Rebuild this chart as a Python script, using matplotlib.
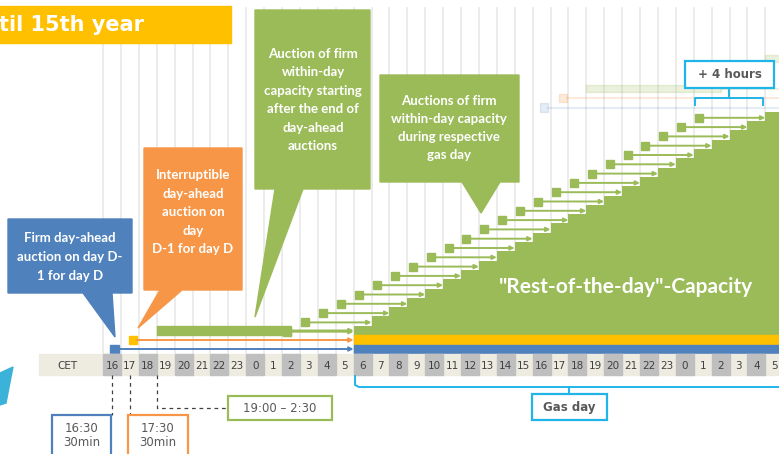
import matplotlib
matplotlib.use("Agg")
import matplotlib.pyplot as plt
from matplotlib.patches import Rectangle, Polygon

# hour labels of the CET strip (16:00 on day D-1 up to 5:00 on day D+1)
hour_labels = [16, 17, 18, 19, 20, 21, 22, 23, 0, 1, 2, 3, 4, 5,
               6, 7, 8, 9, 10, 11, 12, 13, 14, 15, 16, 17, 18, 19, 20, 21, 22, 23,
               0, 1, 2, 3, 4, 5]

# auction times, as hour offsets from 16:00 on day D-1
day_ahead_time = 0.5        # 16:30
interruptible_time = 1.5    # 17:30
within_day_start = 3.0      # 19:00
within_day_end = 10.5       # 2:30
gas_day_start = 14.0        # 6:00
lead_time = 4               # "+ 4 hours"

# rest-of-the-day capacity: level reached at each hour of the gas day
step_hours = [14, 15, 16, 17, 18, 19, 20, 21, 22, 23, 24, 25,
              26, 27, 28, 29, 30, 31, 32, 33, 34, 35, 36, 37]
step_levels = [1, 2, 3, 4, 5, 6, 7, 8, 9, 10, 11, 12,
               13, 14, 15, 16, 17, 18, 19, 20, 21, 22, 23, 24]

BLUE = "#4F81BD"
ORANGE = "#F79646"
YELLOW = "#FFC000"
GREEN = "#9BBB59"
CYAN = "#1FB5E8"
GREY_TXT = "#595959"

# page layout (pixels): hour grid origin and width
X0 = 103.0
W = 17.9
STEP = 9.3
BASE = 335.0


def hx(px):
    return (px - X0) / W


fig = plt.figure(figsize=(7.79, 4.54), dpi=100)
ax = fig.add_axes([0, 0, 1, 1])
ax.set_xlim(hx(0), hx(779))
ax.set_ylim(454, 0)
ax.axis("off")

# vertical hour grid
for k in range(len(hour_labels) + 1):
    ax.plot([k, k], [8, 354], color="#EBEBEB", lw=1.3, zorder=1)

# faded next-day auctions
ax.add_patch(Rectangle((day_ahead_time + 24 - 0.1, 103), 0.45, 9, color=BLUE, alpha=0.15, zorder=2))
ax.plot([day_ahead_time + 24.35, hx(779)], [107.5, 107.5], color=BLUE, alpha=0.15, lw=1.5, zorder=2)
ax.add_patch(Rectangle((interruptible_time + 24 - 0.05, 94), 0.45, 8, color=ORANGE, alpha=0.2, zorder=2))
ax.plot([interruptible_time + 24.4, hx(779)], [98, 98], color=ORANGE, alpha=0.2, lw=1.5, zorder=2)
ax.add_patch(Rectangle((within_day_start + 24, 85), within_day_end - within_day_start, 7,
                       color=GREEN, alpha=0.2, zorder=2))
ax.plot([within_day_end + 24, hx(779)], [88.5, 88.5], color=GREEN, alpha=0.2, lw=1.5, zorder=2)
ax.add_patch(Rectangle((hx(765), 55), 2, 7, color=GREEN, alpha=0.2, zorder=2))

# rest-of-the-day staircase
edges = step_hours + [step_hours[-1] + 1]
tops = [BASE - STEP * lv for lv in step_levels]
ax.stairs(tops, edges, baseline=BASE, fill=True, color=GREEN, zorder=3)

# within-day auctions: square lead_time hours before each step, arrow to step
for s, top in zip(step_hours, tops):
    yc = top + 6
    x_sq = s - lead_time + 0.08
    ax.add_patch(Rectangle((x_sq, yc - 4), 0.45, 8, color=GREEN, zorder=4))
    ax.annotate("", xy=(s, yc), xytext=(x_sq + 0.45, yc),
                arrowprops=dict(arrowstyle="-|>", color=GREEN, lw=1.4,
                                mutation_scale=6, shrinkA=0, shrinkB=0), zorder=4)

# within-day auction after day-ahead: 19:00 - 2:30
ax.add_patch(Rectangle((within_day_start, 326), within_day_end - within_day_start, 9, color=GREEN, zorder=4))
ax.annotate("", xy=(gas_day_start, 330.5), xytext=(within_day_end, 330.5),
            arrowprops=dict(arrowstyle="-|>", color=GREEN, lw=1.4, mutation_scale=6,
                            shrinkA=0, shrinkB=0), zorder=4)

# interruptible day-ahead
ax.add_patch(Rectangle((interruptible_time - 0.05, 335.5), 0.45, 8.5, color=YELLOW, zorder=5))
ax.annotate("", xy=(gas_day_start, 340), xytext=(interruptible_time + 0.4, 340),
            arrowprops=dict(arrowstyle="-|>", color=ORANGE, lw=1.4, mutation_scale=6,
                            shrinkA=0, shrinkB=0), zorder=5)
ax.add_patch(Rectangle((gas_day_start, 335), hx(779) - gas_day_start, 9, color=YELLOW, zorder=5))

# firm day-ahead
ax.add_patch(Rectangle((day_ahead_time - 0.1, 344.5), 0.5, 8.5, color=BLUE, zorder=5))
ax.annotate("", xy=(gas_day_start, 349), xytext=(day_ahead_time + 0.4, 349),
            arrowprops=dict(arrowstyle="-|>", color=BLUE, lw=1.4, mutation_scale=6,
                            shrinkA=0, shrinkB=0), zorder=5)
ax.add_patch(Rectangle((gas_day_start, 345), hx(779) - gas_day_start, 8.5, color=BLUE, zorder=5))

# CET strip
ax.add_patch(Rectangle((hx(39), 354), hx(779) - hx(39), 21, color="#EEECE1", zorder=5))
for i, lab in enumerate(hour_labels):
    if lab % 2 == 0:
        ax.add_patch(Rectangle((i, 354), 1, 21, color="#BFBFBF", zorder=6))
    ax.text(i + 0.5, 366, str(lab), ha="center", va="center", fontsize=7.5,
            color="#404040", zorder=7)
ax.text(hx(67), 366, "CET", ha="center", va="center", fontsize=7.5, color="#404040", zorder=7)


def callout(pts, color, lines, cx, ys):
    poly = Polygon([(hx(x), y) for x, y in pts], closed=True, color=color, zorder=8)
    ax.add_patch(poly)
    for t, y in zip(lines, ys):
        ax.text(hx(cx), y, t, ha="center", va="center", color="white", fontsize=9.5,
                family="Lato", weight="bold", zorder=9)


callout([(8, 219), (132, 219), (132, 293), (112, 293), (115, 337), (83, 293), (8, 293)], BLUE,
        ["Firm day-ahead", "auction on day D-", "1 for day D"], 70, [238, 257, 276])
callout([(144, 148), (242, 148), (242, 290), (182, 290), (138, 328), (160, 290), (144, 290)], ORANGE,
        ["Interruptible", "day-ahead", "auction on", "day", "D-1 for day D"], 193,
        [175, 194, 212, 231, 249])
callout([(255, 10), (370, 10), (370, 189), (303, 189), (255, 317), (275, 189), (255, 189)], GREEN,
        ["Auction of firm", "within-day", "capacity starting", "after the end of",
         "day-ahead", "auctions"], 313, [54, 72, 91, 109, 128, 146])
callout([(380, 75), (519, 75), (519, 182), (500, 182), (481, 213), (462, 182), (380, 182)], GREEN,
        ["Auctions of firm", "within-day capacity", "during respective", "gas day"], 449,
        [101, 119, 137, 155])

ax.text(hx(626), 287, "\"Rest-of-the-day\"-Capacity", ha="center", va="center", color="white",
        fontsize=15, family="Lato", weight="bold", zorder=9)

# banner
ax.add_patch(Rectangle((hx(0), 6), hx(231) - hx(0), 37, color=YELLOW, zorder=10))
ax.text(hx(-1), 25, "til 15th year", ha="left", va="center", color="white", fontsize=15,
        weight="bold", zorder=11)

# "+ 4 hours" bracket
ax.add_patch(Rectangle((hx(685), 61), hx(774) - hx(685), 27, facecolor="white", edgecolor=CYAN,
                       lw=1.6, zorder=10))
ax.text(hx(729.5), 75, "+ 4 hours", ha="center", va="center", fontsize=8.5, weight="bold",
        color=GREY_TXT, zorder=11)
ax.plot([hx(695), hx(695), hx(763), hx(763)], [105, 98, 98, 105], color=CYAN, lw=1.4, zorder=10)
ax.plot([hx(729), hx(729)], [98, 88], color=CYAN, lw=1.4, zorder=10)

# gas day bracket
ax.plot([gas_day_start + 0.08, gas_day_start + 0.08, gas_day_start + 0.3, hx(779)],
        [376, 385, 387, 387], color=CYAN, lw=1.4, zorder=10)
ax.plot([hx(569), hx(569)], [387, 394], color=CYAN, lw=1.4, zorder=10)
ax.add_patch(Rectangle((hx(532), 394), hx(607) - hx(532), 26, facecolor="white", edgecolor=CYAN,
                       lw=1.6, zorder=10))
ax.text(hx(569.5), 407.5, "Gas day", ha="center", va="center", fontsize=8.5, weight="bold",
        color=GREY_TXT, zorder=11)

# dashed leaders and time boxes
ax.plot([day_ahead_time, day_ahead_time], [375, 415], color="#404040", lw=0.9, ls=(0, (3, 3)), zorder=10)
ax.plot([interruptible_time, interruptible_time], [375, 415], color="#404040", lw=0.9, ls=(0, (3, 3)), zorder=10)
ax.plot([within_day_start, within_day_start, hx(228)], [375, 408, 408], color="#404040", lw=0.9,
        ls=(0, (3, 3)), zorder=10)

ax.add_patch(Rectangle((hx(52), 415), hx(111) - hx(52), 50, facecolor="white", edgecolor=BLUE,
                       lw=1.6, zorder=10))
ax.text(hx(81.5), 429, "16:30", ha="center", va="center", fontsize=8.5, color=GREY_TXT, zorder=11)
ax.text(hx(81.5), 442, "30min", ha="center", va="center", fontsize=8.5, color=GREY_TXT, zorder=11)
ax.add_patch(Rectangle((hx(128), 415), hx(188) - hx(128), 50, facecolor="white", edgecolor=ORANGE,
                       lw=1.6, zorder=10))
ax.text(hx(158), 429, "17:30", ha="center", va="center", fontsize=8.5, color=GREY_TXT, zorder=11)
ax.text(hx(158), 442, "30min", ha="center", va="center", fontsize=8.5, color=GREY_TXT, zorder=11)
ax.add_patch(Rectangle((hx(228), 396), hx(332) - hx(228), 24, facecolor="white", edgecolor=GREEN,
                       lw=1.6, zorder=10))
ax.text(hx(280), 408, "19:00 \u2013 2:30", ha="center", va="center", fontsize=8.5, color=GREY_TXT,
        zorder=11)

# cyan arrow fragment at the left edge
ax.add_patch(Polygon([(hx(0), 373), (hx(13), 367), (hx(11), 377), (hx(6), 403), (hx(0), 405)],
                     closed=True, color="#3BB2DA", zorder=10))

fig.savefig("out.png", dpi=100)
